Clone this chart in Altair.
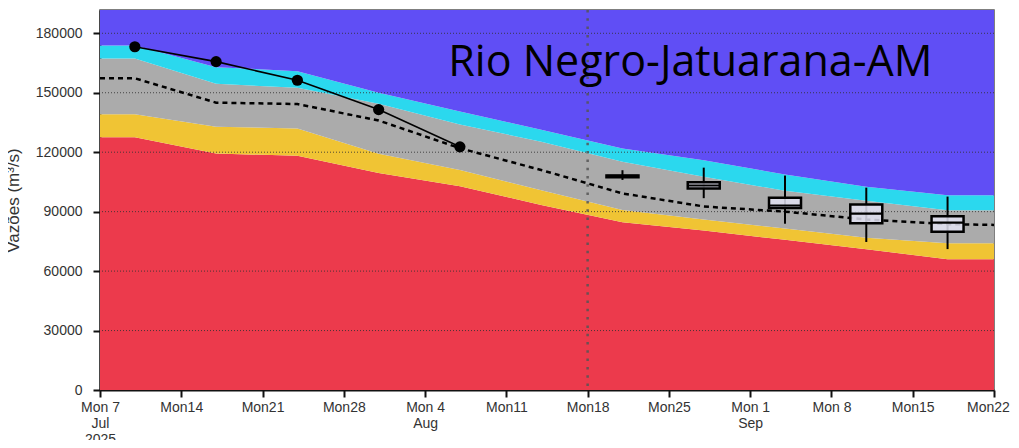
import altair as alt
import pandas as pd
import json

# ---------------- data ----------------
band_dates = ["2025-07-07", "2025-07-10", "2025-07-17", "2025-07-24", "2025-07-31",
              "2025-08-07", "2025-08-14", "2025-08-21", "2025-08-28", "2025-09-04",
              "2025-09-11", "2025-09-18", "2025-09-22"]
red_top    = [127500, 127500, 119300, 118200, 109500, 102800, 93400, 84700, 80500, 75800, 71000, 66000, 66000]
yellow_top = [139200, 139200, 132800, 132000, 119200, 111000, 100800, 90800, 86000, 81500, 76800, 74000, 74000]
gray_top   = [167300, 167300, 154500, 152500, 144500, 134000, 125300, 115200, 107600, 100500, 95500, 90700, 90700]
cyan_top   = [173800, 173800, 162900, 160900, 150000, 140500, 131300, 121900, 115900, 108800, 102500, 98300, 98300]
median     = [157300, 157300, 145000, 144300, 136000, 122000, 111000, 99200, 92600, 90000, 86000, 83700, 83300]

obs_dates = ["2025-07-10", "2025-07-17", "2025-07-24", "2025-07-31", "2025-08-07"]
obs_vals  = [173200, 165700, 156300, 141500, 122700]

box_dates = ["2025-08-21", "2025-08-28", "2025-09-04", "2025-09-11", "2025-09-18"]
whisk_lo  = [106000, 96800, 83900, 74700, 71100]
box_q1    = [107400, 101700, 91800, 84200, 79800]
box_med   = [108000, 103200, 93100, 89000, 84500]
box_q3    = [108300, 104800, 97000, 93600, 87700]
whisk_hi  = [110900, 112200, 108200, 102100, 97600]

forecast_start = ["2025-08-18"]

y_ticks = [0, 30000, 60000, 90000, 120000, 150000, 180000]
y_max = 191750
x_start, x_end = "2025-07-07", "2025-09-22"
x_tick_dates = ["2025-07-07", "2025-07-14", "2025-07-21", "2025-07-28", "2025-08-04",
                "2025-08-11", "2025-08-18", "2025-08-25", "2025-09-01", "2025-09-08",
                "2025-09-15", "2025-09-22"]
x_tick_labels = [["Mon 7", "Jul", "2025"], "Mon14", "Mon21", "Mon28", ["Mon 4", "Aug"],
                 "Mon11", "Mon18", "Mon25", ["Mon 1", "Sep"], "Mon 8", "Mon15", "Mon22"]

title_text = ["Rio Negro-Jatuarana-AM"]
title_date = ["2025-08-06"]
title_val = [158500]

band_names  = ["red", "yellow", "gray", "cyan", "blue"]
band_colors = ["#EC3A4C", "#F0C434", "#ABABAB", "#2BD8EE", "#604EF5"]

# ---------------- helpers ----------------
def ms(d):
    return int(pd.Timestamp(d, tz="UTC").value // 10**6)

t0 = ms(x_start)
week = 7 * 24 * 3600 * 1000
label_expr = json.dumps(x_tick_labels).replace('"', "'") + f"[round((datum.value - {t0}) / {week})]"

x_scale = alt.Scale(type="utc", domain=[ms(x_start), ms(x_end)], nice=False, padding=0)
x_axis = alt.Axis(values=[ms(d) for d in x_tick_dates], labelExpr=label_expr,
                  grid=False, labelLineHeight=16, labelPadding=3, labelFlush=False,
                  labelOverlap=False, labelAlign="center",
                  labelOffset={"condition": {"test": f"datum.value >= {ms(x_end)}", "value": -6},
                               "value": 0})
y_scale = alt.Scale(domain=[0, y_max], nice=False, zero=True, padding=0)
y_axis = alt.Axis(values=y_ticks, format="d", grid=False, labelPadding=11, titlePadding=13)
Y_TITLE = "Vazões (m³/s)"


def X(field):
    return alt.X(f"{field}:T", scale=x_scale, axis=x_axis, title=None)


def Y(field):
    return alt.Y(f"{field}:Q", scale=y_scale, axis=y_axis, title=Y_TITLE)


# ---------------- tables ----------------
bands = pd.DataFrame({
    "date": band_dates,
    "b0": [0] * len(band_dates),
    "b1": red_top,
    "b2": yellow_top,
    "b3": gray_top,
    "b4": cyan_top,
    "b5": [y_max] * len(band_dates),
    "median": median,
})
obs = pd.DataFrame({"date": obs_dates, "v": obs_vals})
boxes = pd.DataFrame({"date": box_dates, "lo": whisk_lo, "q1": box_q1,
                      "med": box_med, "q3": box_q3, "hi": whisk_hi})
grid = pd.DataFrame({"g": y_ticks[1:]})
vline = pd.DataFrame({"date": forecast_start})
title_df = pd.DataFrame({"date": title_date, "v": title_val, "label": title_text})

# ---------------- layers ----------------
layers = []
for i, (name, col) in enumerate(zip(band_names, band_colors)):
    layers.append(
        alt.Chart(bands).mark_area(color=col, opacity=1, interpolate="linear").encode(
            x=X("date"), y=Y(f"b{i}"), y2=alt.Y2(f"b{i+1}:Q")
        )
    )

grid_layer = alt.Chart(grid).mark_rule(color="#333", strokeWidth=1, strokeDash=[1, 2],
                                       strokeOpacity=0.85).encode(y=Y("g"))
vline_layer = alt.Chart(vline).mark_rule(color="#555", strokeWidth=2.5, strokeDash=[2.5, 5.8],
                                         strokeOpacity=0.85).encode(x=X("date"))
median_layer = alt.Chart(bands).mark_line(color="black", strokeWidth=2.5, strokeDash=[5, 4]).encode(
    x=X("date"), y=Y("median"))
obs_line = alt.Chart(obs).mark_line(color="black", strokeWidth=1.6).encode(x=X("date"), y=Y("v"))
obs_pts = alt.Chart(obs).mark_circle(color="black", size=125, opacity=1).encode(x=X("date"), y=Y("v"))

whisk = alt.Chart(boxes).mark_rule(color="black", strokeWidth=2).encode(
    x=X("date"), y=Y("lo"), y2=alt.Y2("hi:Q"))
box = alt.Chart(boxes).mark_bar(size=32, fill="#e2e2f2", fillOpacity=0.85, stroke="black",
                                strokeWidth=2.5).encode(x=X("date"), y=Y("q1"), y2=alt.Y2("q3:Q"))
med_tick = alt.Chart(boxes).mark_tick(orient="horizontal", size=32, thickness=2.2,
                                      color="black", opacity=1).encode(x=X("date"), y=Y("med"))

title_layer = alt.Chart(title_df).mark_text(font="Open Sans", fontSize=43, align="left",
                                            baseline="alphabetic", color="black").encode(
    x=X("date"), y=Y("v"), text="label:N")

chart = alt.layer(*layers, grid_layer, vline_layer, median_layer, obs_line, obs_pts,
                  whisk, box, med_tick, title_layer).properties(
    width=894, height=380,
    autosize=alt.AutoSizeParams(type="none"),
    padding={"left": 92, "top": 2, "right": 17, "bottom": 50},
).configure_view(
    stroke="#555", strokeWidth=1.5
).configure_axis(
    labelFont="Liberation Sans", labelFontSize=14, labelColor="#333",
    titleFont="Liberation Sans", titleFontSize=17, titleColor="#333", titleFontWeight="normal",
    domainColor="#111", domainWidth=2, tickColor="#111", tickWidth=2, tickSize=7,
)

chart.save("out.html", embed_options={"renderer": "svg", "actions": False})
